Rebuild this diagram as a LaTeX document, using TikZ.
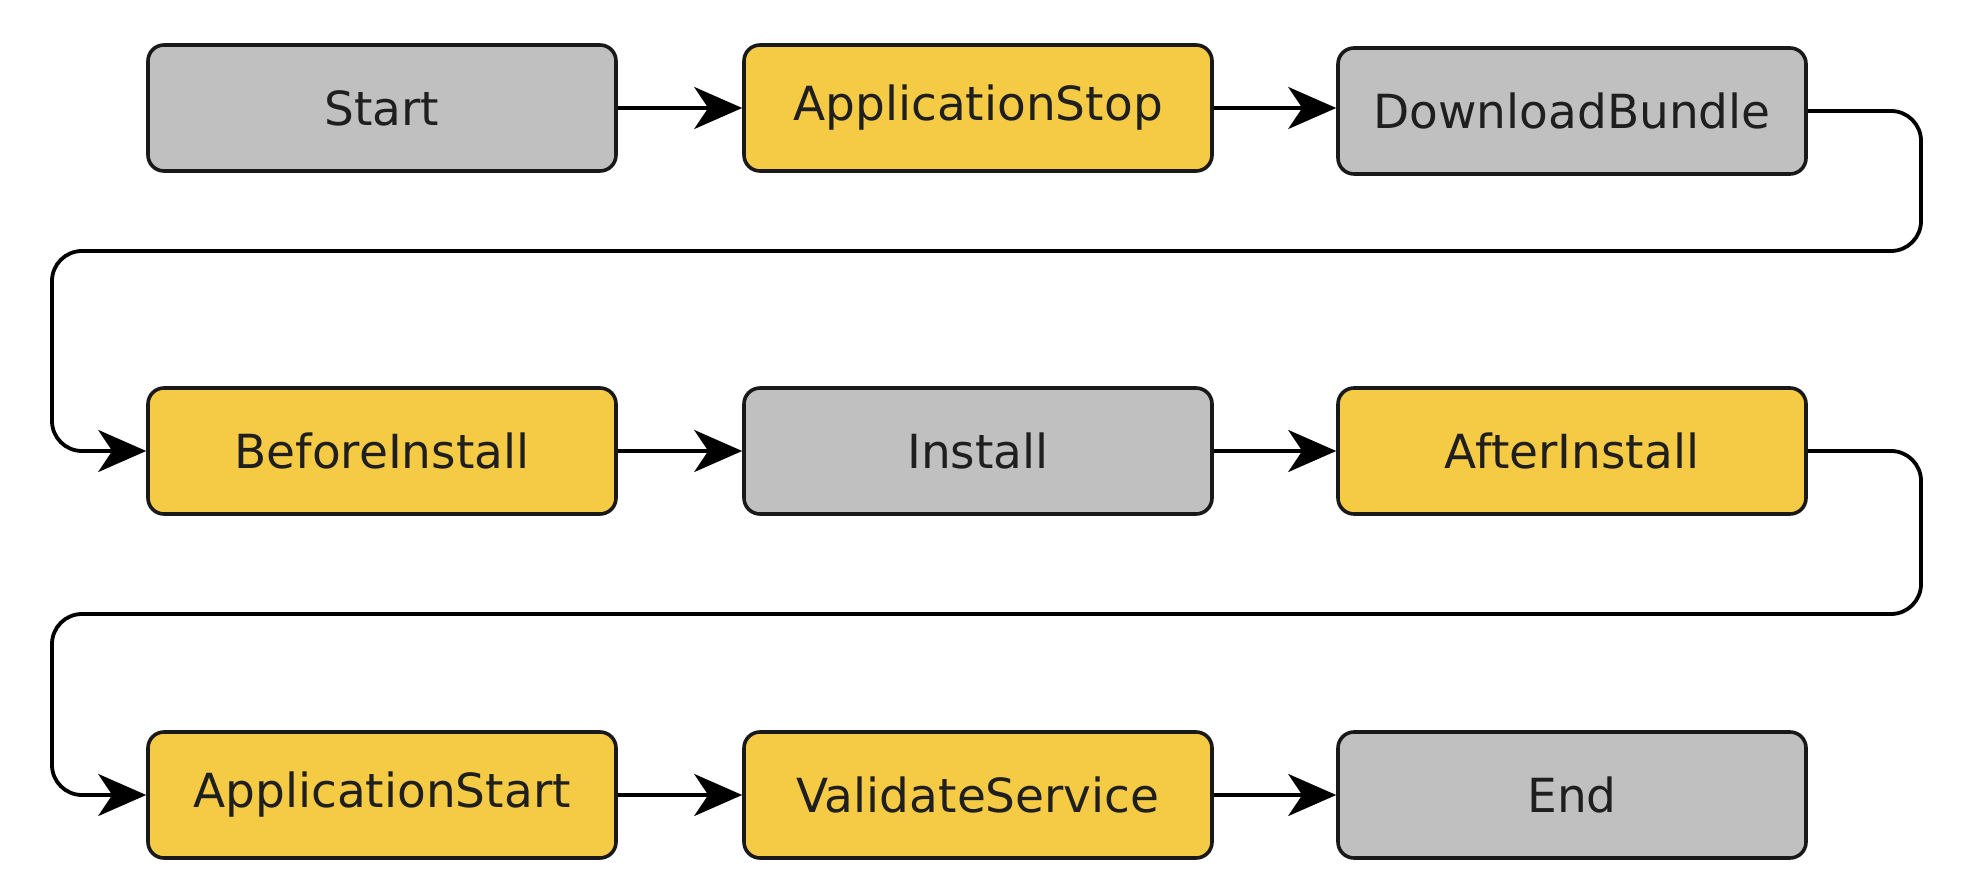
\documentclass[tikz,border=0pt]{standalone}
\usepackage{fontspec}
\setmainfont{DejaVu Sans}
\usetikzlibrary{arrows.meta}
\definecolor{stepgray}{HTML}{C0C0C0}
\definecolor{stepyellow}{HTML}{F5CB45}
\tikzset{
  box/.style={draw=black!90, line width=1.8pt, rounded corners=8pt, minimum width=234pt, minimum height=63pt, inner sep=0pt, font=\fontsize{23.5}{28}\selectfont, text=black!88},
  graybox/.style={box, fill=stepgray},
  yellowbox/.style={box, fill=stepyellow},
  conn/.style={line width=1.9pt, -{Stealth[length=24pt, width=21pt, inset=7pt]}},
}
\begin{document}
\begin{tikzpicture}[x=0.5pt, y=-0.5pt]
\useasboundingbox (0,0) rectangle (1962,886);
% row 1
\node[graybox]   (start) at (382,108) {Start};
\node[yellowbox] (astop) at (978,108) {ApplicationStop};
\node[graybox]   (dl)    at (1572,111) {DownloadBundle};
% row 2
\node[yellowbox] (bi)    at (382,451) {BeforeInstall};
\node[graybox]   (inst)  at (978,451) {Install};
\node[yellowbox] (ai)    at (1572,451) {AfterInstall};
% row 3
\node[yellowbox] (as)    at (382,795) {ApplicationStart};
\node[yellowbox] (vs)    at (978,795) {ValidateService};
\node[graybox]   (end)   at (1572,795) {End};
% coordinates for wrap connectors
\coordinate (w1a) at (1921,111);
\coordinate (w1b) at (1921,251);
\coordinate (w1c) at (52,251);
\coordinate (w1d) at (52,451);
\coordinate (w2a) at (1921,451);
\coordinate (w2b) at (1921,614);
\coordinate (w2c) at (52,614);
\coordinate (w2d) at (52,795);
% connectors
\draw[conn] (start) -- (astop);
\draw[conn] (astop.east) -- (astop.east -| dl.west);
\draw[conn, rounded corners=15pt] (dl.east) -- (w1a) -- (w1b) -- (w1c) -- (w1d) -- (bi.west);
\draw[conn] (bi) -- (inst);
\draw[conn] (inst) -- (ai);
\draw[conn, rounded corners=15pt] (ai.east) -- (w2a) -- (w2b) -- (w2c) -- (w2d) -- (as.west);
\draw[conn] (as) -- (vs);
\draw[conn] (vs) -- (end);
\end{tikzpicture}
\end{document}
